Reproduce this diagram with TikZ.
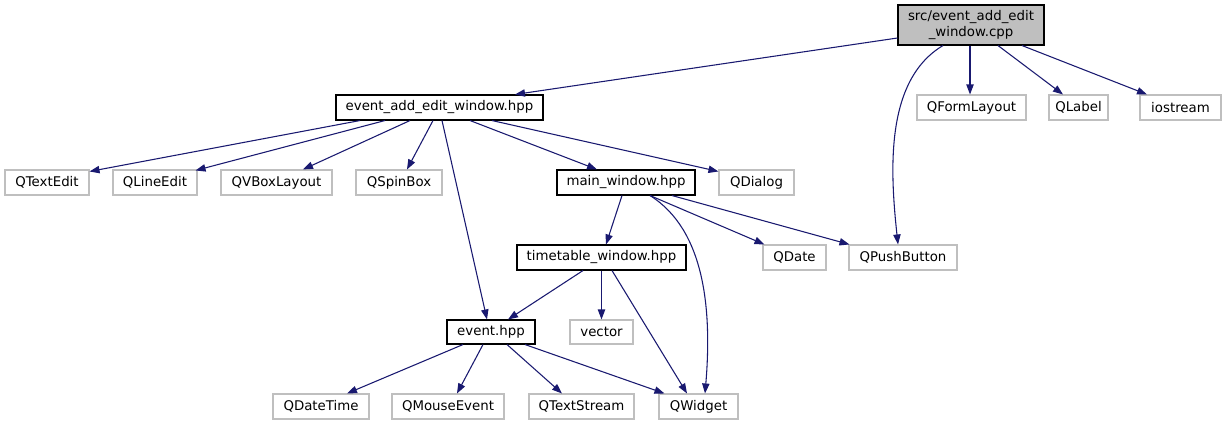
\documentclass[tikz,border=0pt]{standalone}
\usepackage{fontspec}
\setmainfont{DejaVu Sans}
\usetikzlibrary{arrows.meta,calc}
\definecolor{edgeblue}{HTML}{191970}
\definecolor{boxgray}{HTML}{BFBFBF}
\begin{document}
\begin{tikzpicture}[x=0.75pt,y=-0.75pt,
  base/.style={inner sep=0pt,font=\fontsize{10}{12}\selectfont,align=center,minimum height=18.75pt},
  dep/.style={base,draw=black,line width=0.8pt,fill=white},
  ext/.style={base,draw=boxgray,line width=0.8pt,fill=white},
  rootbox/.style={base,draw=black,line width=0.8pt,fill=boxgray},
  link/.style={draw=edgeblue,line width=0.8pt,-{Triangle[length=7.5pt,width=5.5pt]}}]
\useasboundingbox[fill=white] (0,0) rectangle (1226,425);
% nodes
\node[rootbox,minimum width=109.5pt,minimum height=30pt] (root) at (971,25) {src/event\_add\_edit\\\_window.cpp};
\node[dep,minimum width=155.25pt] (eaew) at (439.5,107.5) {event\_add\_edit\_window.hpp};
\node[ext,minimum width=81.75pt] (qform) at (971.5,107.5) {QFormLayout};
\node[ext,minimum width=44.25pt] (qlabel) at (1078.5,107.5) {QLabel};
\node[ext,minimum width=60.75pt] (iostream) at (1180.5,107.5) {iostream};
\node[ext,minimum width=63pt] (qtextedit) at (47,182.5) {QTextEdit};
\node[ext,minimum width=63pt] (qlineedit) at (155,182.5) {QLineEdit};
\node[ext,minimum width=83.25pt] (qvbox) at (276.5,182.5) {QVBoxLayout};
\node[ext,minimum width=64.5pt] (qspin) at (399,182.5) {QSpinBox};
\node[dep,minimum width=103.5pt] (main) at (626,182.5) {main\_window.hpp};
\node[ext,minimum width=56.25pt] (qdialog) at (756.5,182.5) {QDialog};
\node[dep,minimum width=126.75pt] (tt) at (601.5,257.5) {timetable\_window.hpp};
\node[ext,minimum width=47.25pt] (qdate) at (794.5,257.5) {QDate};
\node[ext,minimum width=81pt] (qpush) at (903,257.5) {QPushButton};
\node[dep,minimum width=66pt,minimum height=18pt] (event) at (491,332) {event.hpp};
\node[ext,minimum width=47.25pt,minimum height=18pt] (vector) at (601.5,332) {vector};
\node[ext,minimum width=72pt] (qdatetime) at (321,406.5) {QDateTime};
\node[ext,minimum width=84pt] (qmouse) at (448,406.5) {QMouseEvent};
\node[ext,minimum width=78.75pt] (qtextstream) at (581.5,406.5) {QTextStream};
\node[ext,minimum width=59.25pt] (qwidget) at (698.5,406.5) {QWidget};
% edges from root
\draw[link] ($(root.west)+(0,13)$) -- ($(eaew.north)+(75.5,0)$);
\draw[link] ($(root.south)+(-1,0)$) -- ($(qform.north)+(-1.5,0)$);
\draw[link] ($(root.south)+(27,0)$) -- ($(qlabel.north)+(-15.5,0)$);
\draw[link] ($(root.south)+(51,0)$) -- ($(iostream.north)+(-33.5,0)$);
\draw[link] ($(root.south)+(-28,0)$) .. controls (885,80) and (890,170) .. ($(qpush.north)+(-5,0)$);
% edges from event_add_edit_window.hpp
\draw[link] ($(eaew.south)+(-79.5,0)$) -- ($(qtextedit.north east)+(0,2)$);
\draw[link] ($(eaew.south)+(-54.5,0)$) -- ($(qlineedit.north east)+(-2,1)$);
\draw[link] ($(eaew.south)+(-29.5,0)$) -- ($(qvbox.north)+(26.5,0)$);
\draw[link] ($(eaew.south)+(-6.5,0)$) -- ($(qspin.north)+(8,0)$);
\draw[link] ($(eaew.south)+(2.5,0)$) -- ($(event.north)+(-4,0)$);
\draw[link] ($(eaew.south)+(30.5,0)$) -- ($(main.north)+(-29,0)$);
\draw[link] ($(eaew.south)+(52.5,0)$) -- ($(qdialog.north west)+(0,2)$);
% edges from main_window.hpp
\draw[link] ($(main.south)+(-4,0)$) -- ($(tt.north)+(4.5,0)$);
\draw[link] ($(main.south)+(24,0)$) -- ($(qdate.north west)+(2,0)$);
\draw[link] ($(main.south)+(46,0)$) -- ($(qpush.north west)+(1,0)$);
\draw[link] ($(main.south)+(24,0)$) .. controls (705,230) and (712,310) .. ($(qwidget.north)+(6.5,0)$);
% edges from timetable_window.hpp
\draw[link] ($(tt.south)+(-18.5,0)$) -- ($(event.north)+(17,0)$);
\draw[link] (tt.south) -- (vector.north);
\draw[link] ($(tt.south)+(10.5,0)$) -- ($(qwidget.north)+(-11.5,0)$);
% edges from event.hpp
\draw[link] ($(event.south)+(-28,0)$) -- ($(qdatetime.north)+(26,0)$);
\draw[link] ($(event.south)+(-8,0)$) -- ($(qmouse.north)+(9,0)$);
\draw[link] ($(event.south)+(16,0)$) -- ($(qtextstream.north)+(-19.5,0)$);
\draw[link] ($(event.south)+(34,0)$) -- ($(qwidget.north west)+(6,0)$);
\end{tikzpicture}
\end{document}
